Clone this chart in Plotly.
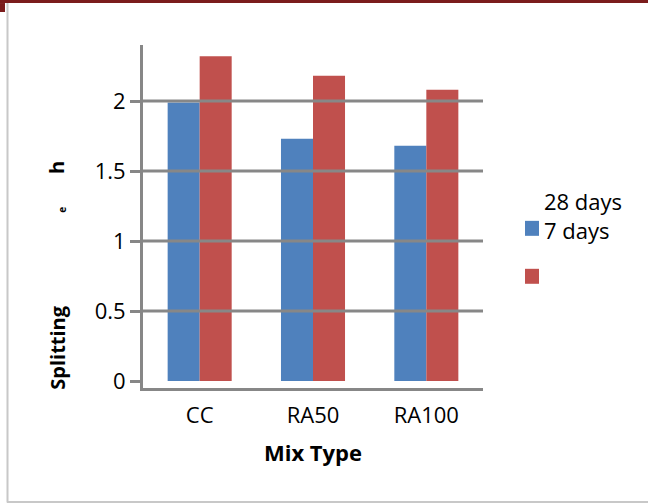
import plotly.graph_objects as go

categories = ["CC", "RA50", "RA100"]
days7 = [1.99, 1.73, 1.68]
days28 = [2.32, 2.18, 2.08]
y_ticks = [0, 0.5, 1, 1.5, 2]
y_tick_labels = ["0", "0.5", "1", "1.5", "2"]
legend_lines = ["28 days", "7 days"]

BLUE = "#4F81BD"
RED = "#C0504D"
GRID = "#878787"
FONT = "Open Sans"
FS = 22

W, H = 648, 504
L, R, T, B = 143, 483, 45, 388.3


def px(x):
    return (x - L) / (R - L)


def py(y):
    return (B - y) / (B - T)


fig = go.Figure()
fig.add_trace(go.Bar(x=categories, y=days7, name="7 days", marker=dict(color=BLUE, line=dict(width=0))))
fig.add_trace(go.Bar(x=categories, y=days28, name="28 days", marker=dict(color=RED, line=dict(width=0))))

shapes = []
# gridlines drawn above bars
for v in y_ticks[1:]:
    shapes.append(dict(type="line", xref="paper", yref="y", x0=0, x1=1, y0=v, y1=v,
                       line=dict(color=GRID, width=3), layer="above"))
# outer frame
shapes.append(dict(type="line", xref="paper", yref="paper", x0=px(0), x1=px(648), y0=py(1.5), y1=py(1.5),
                   line=dict(color="#7B1C1C", width=3), layer="above"))
shapes.append(dict(type="rect", xref="paper", yref="paper", x0=px(0), x1=px(5), y0=py(3), y1=py(12),
                   fillcolor="#7B1C1C", line=dict(width=0), layer="above"))
shapes.append(dict(type="line", xref="paper", yref="paper", x0=px(7.5), x1=px(7.5), y0=py(3), y1=py(503),
                   line=dict(color="#C8C8C8", width=2), layer="above"))
shapes.append(dict(type="line", xref="paper", yref="paper", x0=px(7), x1=px(648), y0=py(502.5), y1=py(502.5),
                   line=dict(color="#C8C8C8", width=2), layer="above"))
# legend squares
shapes.append(dict(type="rect", xref="paper", yref="paper", x0=px(525), x1=px(539), y0=py(236), y1=py(221),
                   fillcolor=BLUE, line=dict(width=0)))
shapes.append(dict(type="rect", xref="paper", yref="paper", x0=px(525), x1=px(539), y0=py(284), y1=py(269),
                   fillcolor=RED, line=dict(width=0)))

annotations = [
    dict(text="<br>".join(legend_lines), xref="paper", yref="paper", x=px(542), y=py(216), xanchor="left",
         yanchor="middle", align="left", showarrow=False, font=dict(family=FONT, size=FS, color="#000")),
    dict(text="<b>Splitting</b>", xref="paper", yref="paper", x=px(58), y=py(348), xanchor="center",
         yanchor="middle", textangle=-90, showarrow=False, font=dict(family=FONT, size=20, color="#000")),
    dict(text="<b>e</b>", xref="paper", yref="paper", x=px(62), y=py(210), xanchor="center",
         yanchor="middle", textangle=-90, showarrow=False, font=dict(family=FONT, size=10, color="#000")),
    dict(text="<b>h</b>", xref="paper", yref="paper", x=px(57), y=py(168), xanchor="center",
         yanchor="middle", textangle=-90, showarrow=False, font=dict(family=FONT, size=20, color="#000")),
]

fig.update_layout(
    width=W, height=H,
    margin=dict(l=L, r=W - R, t=T, b=H - B, pad=0),
    paper_bgcolor="white", plot_bgcolor="white",
    barmode="group", bargap=0.435, bargroupgap=0,
    showlegend=False,
    font=dict(family=FONT, size=FS, color="#000"),
    shapes=shapes, annotations=annotations,
    xaxis=dict(showgrid=False, showline=True, linecolor=GRID, linewidth=3, ticks="outside", ticklen=6,
               tickcolor="rgba(0,0,0,0)",
               tickfont=dict(family=FONT, size=FS, color="#000"),
               title=dict(text="<b>Mix Type</b>", font=dict(family=FONT, size=FS, color="#000"), standoff=18)),
    yaxis=dict(range=[-0.05, 2.4], showgrid=False, zeroline=False, showline=True, linecolor=GRID, linewidth=3,
               ticks="outside", ticklen=10, tickwidth=3, tickcolor=GRID,
               tickvals=y_ticks, ticktext=y_tick_labels,
               tickfont=dict(family=FONT, size=FS, color="#000")),
)

fig.write_html("out.html")
